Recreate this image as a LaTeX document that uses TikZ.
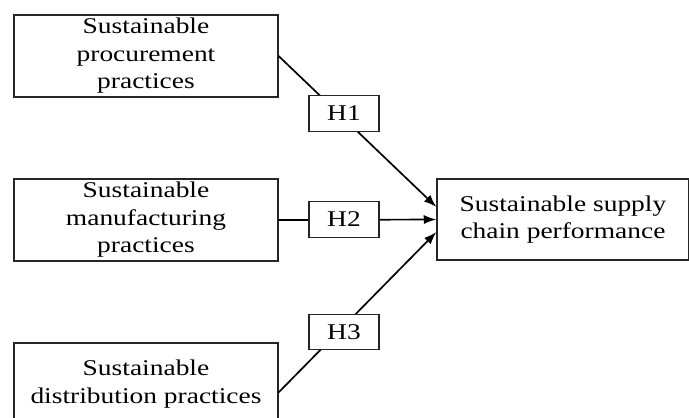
\documentclass[tikz,border=0pt]{standalone}
\usepackage{fontspec}
\setmainfont{Liberation Serif}[FakeStretch=1.22]
\usetikzlibrary{arrows.meta,calc}

\tikzset{
  factor/.style = {draw=black!85, line width=0.8pt, fill=white, align=center,
    minimum width=6.6cm, minimum height=2.05cm, inner sep=0pt,
    font=\fontsize{16}{19.5}\selectfont},
  hyp/.style = {draw=black!85, line width=0.8pt, fill=white,
    minimum width=1.75cm, minimum height=0.88cm, inner sep=0pt,
    font=\fontsize{16}{19.5}\selectfont},
  link/.style = {line width=1.2pt, -{Latex[length=9pt,width=6.5pt]}}
}

\begin{document}
\begin{tikzpicture}[x=0.025cm, y=-0.025cm]
\useasboundingbox (0,0) rectangle (689,417);

%PRACTICES
\node [factor] (proc) at (146,56) {Sustainable\\procurement\\practices};
\node [factor] (manu) at (146,220) {Sustainable\\manufacturing\\practices};
\node [factor] (dist) at (146,384) {Sustainable\\distribution practices};

%PERFORMANCE
\node [factor, minimum width=6.3cm, minimum height=2.025cm] (perf) at (563,219.5)
  {Sustainable supply\\chain performance};

\coordinate (dist out) at (278,393);

\draw [link] (proc.east) -- ($(perf.west)+(0,-12.5)$);
\draw [link] (manu.east) -- (perf.west);
\draw [link] (dist out) -- ($(perf.west)+(0,12.5)$);

%HYPOTHESES
\node [hyp] (h1) at (344,113.5) {H1};
\node [hyp] (h2) at (344,219.5) {H2};
\node [hyp] (h3) at (344,332) {H3};

\end{tikzpicture}
\end{document}
